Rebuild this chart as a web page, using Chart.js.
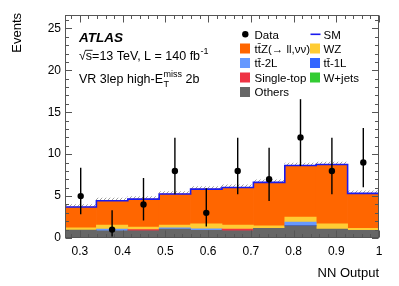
<!DOCTYPE html>
<html>
<head>
<meta charset="utf-8">
<script src="https://cdn.jsdelivr.net/npm/chart.js@4.4.1/dist/chart.umd.min.js"></script>
<style>
  html, body { margin: 0; padding: 0; background: #fff; }
  #wrap { width: 399px; height: 286px; }
</style>
</head>
<body>
<div id="wrap"><canvas id="nnChart" width="399" height="286"></canvas></div>
<script>
// NN output bins (10 equal bins)
const binEdges = [0.265, 0.3385, 0.412, 0.4855, 0.559, 0.6325, 0.706, 0.7795, 0.853, 0.9265, 1.0];
const binCenters = [0.30175, 0.37525, 0.44875, 0.52225, 0.59575, 0.66925, 0.74275, 0.81625, 0.88975, 0.96325];

// stacked backgrounds, bottom -> top
const others    = [0.95, 0.85, 0.85, 1.05, 0.9, 0.85, 1.15, 1.45, 1.07, 0.9];
const singleTop = [0, 0, 0.15, 0, 0, 0.2, 0, 0, 0, 0];
const wJets     = [0, 0, 0, 0, 0, 0, 0, 0, 0, 0];
const tt1L      = [0, 0, 0, 0, 0, 0, 0, 0.05, 0, 0];
const tt2L      = [0, 0.2, 0, 0.15, 0.2, 0, 0, 0.4, 0, 0];
const wz        = [0.25, 0.5, 0.3, 0.35, 0.6, 0.5, 0.3, 0.6, 0.63, 0.25];
const ttZ       = [2.5, 2.9, 3.34, 3.69, 4.13, 4.48, 5.18, 6.15, 7.07, 4.17];
const smUnc     = [0.3, 0.3, 0.3, 0.3, 0.3, 0.3, 0.3, 0.3, 0.3, 0.3];

// data with asymmetric poisson errors
const dataVals = [5, 1, 4, 8, 3, 8, 7, 12, 8, 9];
const errLow   = [2.16, 0.83, 1.91, 2.77, 1.63, 2.77, 2.58, 3.42, 2.77, 2.94];
const errHigh  = [3.38, 2.30, 3.16, 3.95, 2.92, 3.95, 3.77, 4.56, 3.95, 4.11];

const xTicks = [0.3, 0.4, 0.5, 0.6, 0.7, 0.8, 0.9, 1];
const yTicks = [0, 5, 10, 15, 20, 25];

const bkgNames  = ["Others", "Single-top", "W+jets", "tt\u0304-1L", "tt\u0304-2L", "WZ", "tt\u0304Z(\u2192 ll,\u03BD\u03BD)"];
const bkgValues = [others, singleTop, wJets, tt1L, tt2L, wz, ttZ];
const bkgColors = ["#666666", "#ee3344", "#33cc33", "#3366ff", "#6699ff", "#ffcc33", "#ff6600"];

Chart.defaults.font.family = "'Liberation Sans', Arial, sans-serif";
Chart.defaults.color = "#000";

const smTotal = binCenters.map((c, i) => bkgValues.reduce((s, arr) => s + arr[i], 0));

// hatch for the SM uncertainty
const hatch = (function () {
  const c = document.createElement("canvas");
  c.width = 4; c.height = 4;
  const g = c.getContext("2d");
  g.strokeStyle = "#777";
  g.lineWidth = 0.7;
  g.beginPath();
  g.moveTo(0, 4); g.lineTo(4, 0);
  g.stroke();
  return g.createPattern(c, "repeat");
})();

const datasets = [];
bkgValues.forEach((arr, k) => {
  datasets.push({
    type: "bar",
    label: bkgNames[k],
    stack: "bkg",
    data: arr.map((v, i) => ({ x: binCenters[i], y: v })).filter(p => p.y > 0),
    backgroundColor: bkgColors[k],
    borderWidth: 0,
    barPercentage: 1,
    categoryPercentage: 1
  });
});
datasets.push({
  type: "bar",
  label: "unc",
  stack: "bkg",
  data: smUnc.map((v, i) => ({ x: binCenters[i], y: v })),
  backgroundColor: hatch,
  borderWidth: 0,
  barPercentage: 1,
  categoryPercentage: 1
});

const smPoints = binEdges.map((e, i) => ({ x: e, y: smTotal[Math.min(i, smTotal.length - 1)] }));
datasets.push({
  type: "line",
  label: "SM",
  data: smPoints,
  stepped: true,
  borderColor: "#1a1aee",
  borderWidth: 1.6,
  pointRadius: 0,
  fill: false,
  order: -1
});
const SM_INDEX = datasets.length - 1;

datasets.push({
  type: "scatter",
  label: "Data",
  data: dataVals.map((v, i) => ({ x: binCenters[i], y: v })),
  backgroundColor: "#000",
  borderColor: "#000",
  pointRadius: 3.2,
  pointBorderWidth: 0,
  order: -2
});

const atlasPlugin = {
  id: "atlasStyle",
  afterDatasetDraw(chart, args) {
    if (args.index !== SM_INDEX) return;
    const ctx = chart.ctx, xs = chart.scales.x, ys = chart.scales.y;
    ctx.save();
    ctx.strokeStyle = "#000";
    ctx.lineWidth = 1.4;
    dataVals.forEach((v, i) => {
      const px = xs.getPixelForValue(binCenters[i]);
      ctx.beginPath();
      ctx.moveTo(px, ys.getPixelForValue(Math.max(0, v - errLow[i])));
      ctx.lineTo(px, ys.getPixelForValue(v + errHigh[i]));
      ctx.stroke();
    });
    ctx.restore();
  },
  afterDraw(chart) {
    const ctx = chart.ctx, xs = chart.scales.x, ys = chart.scales.y;
    const a = chart.chartArea;
    const L = Math.round(a.left) + 0.5, R = Math.round(a.right) - 0.5;
    const T = Math.round(a.top) + 0.5, B = Math.round(a.bottom) - 0.5;
    ctx.save();
    // frame
    ctx.strokeStyle = "#555";
    ctx.lineWidth = 1;
    ctx.strokeRect(L, T, R - L, B - T);
    // inner ticks
    ctx.beginPath();
    for (let k = 14; k <= 50; k++) {
      const px = Math.round(xs.getPixelForValue(k * 0.02)) + 0.5;
      const len = k % 5 === 0 ? 7 : 3.5;
      ctx.moveTo(px, B); ctx.lineTo(px, B - len);
      ctx.moveTo(px, T); ctx.lineTo(px, T + len);
    }
    for (let k = 0; k <= 26; k++) {
      const py = Math.round(ys.getPixelForValue(k)) + 0.5;
      const len = k % 5 === 0 ? 6.5 : 3.5;
      ctx.moveTo(L, py); ctx.lineTo(L + len, py);
      ctx.moveTo(R, py); ctx.lineTo(R - len, py);
    }
    ctx.stroke();

    // axis titles
    ctx.fillStyle = "#000";
    ctx.font = "13px 'Liberation Sans', Arial, sans-serif";
    ctx.textAlign = "right";
    ctx.textBaseline = "alphabetic";
    ctx.fillText("NN Output", 379, 276.5);
    ctx.save();
    ctx.translate(20.5, 13);
    ctx.rotate(-Math.PI / 2);
    ctx.fillText("Events", 0, 0);
    ctx.restore();

    // ATLAS label
    ctx.textAlign = "left";
    ctx.font = "italic bold 13.5px 'Liberation Sans', Arial, sans-serif";
    ctx.fillText("ATLAS", 79, 42);
    ctx.font = "12.5px 'Liberation Sans', Arial, sans-serif";
    let x = 79;
    const sq = "\u221A";
    ctx.fillText(sq, x, 59.5);
    const wsq = ctx.measureText(sq).width;
    const ws = ctx.measureText("s").width;
    ctx.fillText("s=13 TeV, L = 140 fb", x + wsq, 59.5);
    ctx.beginPath();
    ctx.strokeStyle = "#000";
    ctx.lineWidth = 0.9;
    ctx.moveTo(x + wsq - 0.5, 50.3);
    ctx.lineTo(x + wsq + ws + 0.5, 50.3);
    ctx.stroke();
    x += wsq + ctx.measureText("s=13 TeV, L = 140 fb").width;
    ctx.font = "9px 'Liberation Sans', Arial, sans-serif";
    ctx.fillText("-1", x + 0.5, 54);

    ctx.font = "12.5px 'Liberation Sans', Arial, sans-serif";
    x = 79;
    ctx.fillText("VR 3lep high-E", x, 82.7);
    x += ctx.measureText("VR 3lep high-E").width;
    ctx.font = "9px 'Liberation Sans', Arial, sans-serif";
    ctx.fillText("miss", x + 0.5, 76.5);
    ctx.fillText("T", x + 0.5, 86.5);
    x += ctx.measureText("miss").width + 0.5;
    ctx.font = "12.5px 'Liberation Sans', Arial, sans-serif";
    ctx.fillText(" 2b", x, 82.7);

    // legend
    ctx.font = "11.5px 'Liberation Sans', Arial, sans-serif";
    const rowY = [34.3, 48.5, 63, 77.5, 92];
    const colBox = [240, 310];
    const colTxt = [254.5, 323.5];
    ctx.beginPath();
    ctx.arc(245.3, rowY[0], 3.2, 0, Math.PI * 2);
    ctx.fill();
    ctx.fillText("Data", colTxt[0], rowY[0] + 4.2);
    ctx.beginPath();
    ctx.strokeStyle = "#1a1aee";
    ctx.lineWidth = 1.6;
    ctx.moveTo(310.5, rowY[0]); ctx.lineTo(320.5, rowY[0]);
    ctx.stroke();
    ctx.fillText("SM", colTxt[1], rowY[0] + 4.2);
    const legendOrder = [[6, 0, 1], [5, 1, 1], [4, 0, 2], [3, 1, 2], [1, 0, 3], [2, 1, 3], [0, 0, 4]];
    legendOrder.forEach(([k, col, row]) => {
      ctx.fillStyle = bkgColors[k];
      ctx.fillRect(colBox[col], rowY[row] - 5, 10, 10);
      ctx.fillStyle = "#000";
      ctx.fillText(bkgNames[k], colTxt[col], rowY[row] + 4.2);
    });
    ctx.restore();
  }
};

new Chart(document.getElementById("nnChart").getContext("2d"), {
  type: "bar",
  data: { datasets: datasets },
  options: {
    responsive: false,
    animation: false,
    layout: { padding: { left: 0, top: 15, right: 20, bottom: 0 } },
    plugins: { legend: { display: false }, tooltip: { enabled: false } },
    scales: {
      x: {
        type: "linear",
        offset: false,
        min: 0.265,
        max: 1,
        grid: { display: false, drawTicks: false, offset: false },
        border: { display: false },
        ticks: {
          stepSize: 0.1,
          includeBounds: false,
          padding: 6,
          maxRotation: 0,
          font: { size: 12 },
          callback: v => String(+v.toFixed(2))
        },
        afterBuildTicks: s => { s.ticks = xTicks.map(v => ({ value: v })); },
        afterFit: s => { s.height = 48; }
      },
      y: {
        stacked: true,
        min: 0,
        max: 26.6,
        grid: { display: false, drawTicks: false },
        border: { display: false },
        ticks: { stepSize: 5, includeBounds: false, padding: 4, font: { size: 12 } },
        afterBuildTicks: s => { s.ticks = yTicks.map(v => ({ value: v })); },
        afterFit: s => { s.width = 65; }
      }
    }
  },
  plugins: [atlasPlugin]
});
</script>
</body>
</html>
